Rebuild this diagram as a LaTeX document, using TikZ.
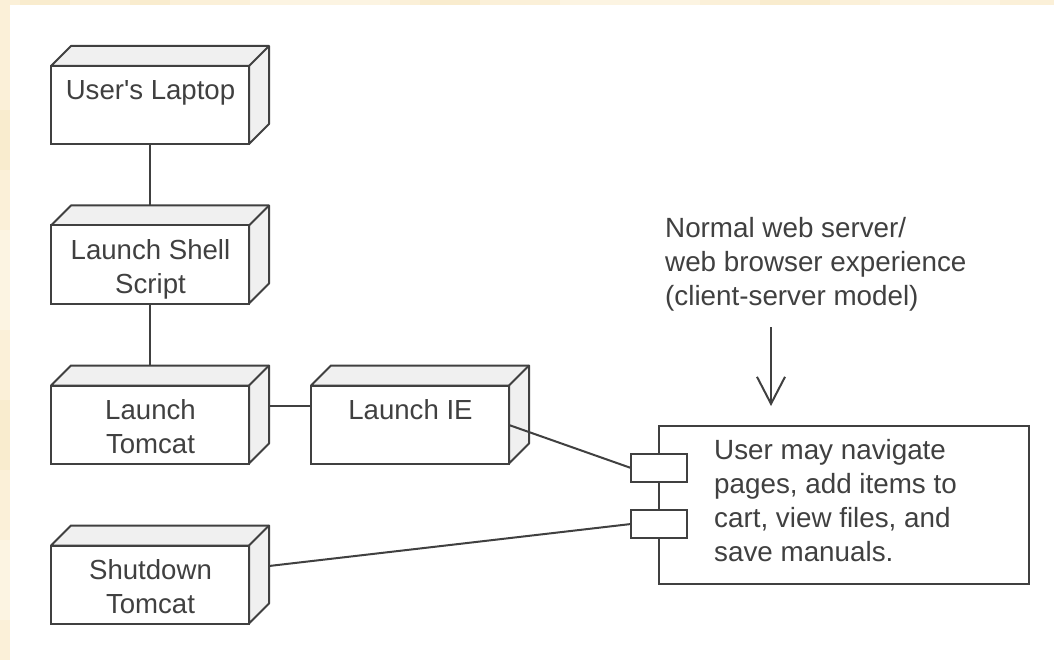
\documentclass[tikz,border=0pt]{standalone}
\usepackage{fontspec}
\setmainfont{Liberation Sans}[Ligatures=TeXOff]
\usetikzlibrary{arrows.meta}
\definecolor{parch}{HTML}{FBF0D8}
\definecolor{parchb}{HTML}{F9ECCE}
\definecolor{parchc}{HTML}{FCF4E2}
\definecolor{ink}{HTML}{404040}
\definecolor{sidef}{HTML}{F0F0F0}
\tikzset{
  x=1pt,y=-1pt,
  line/.style={draw=ink,line width=2pt},
  front/.style={line,fill=white,minimum width=198pt,minimum height=78pt,inner sep=0pt,outer sep=0pt,anchor=north west},
  face/.style={line,fill=sidef,line join=round},
  lbl/.style={text=ink,font=\fontsize{27.6}{34}\selectfont,align=center,inner sep=0pt},
  port/.style={line,fill=white,minimum width=56pt,minimum height=28pt,inner sep=0pt,outer sep=0pt},
  note/.style={text=ink,font=\fontsize{27.8}{34}\selectfont,align=left,inner sep=0pt,anchor=north west},
}
\newcommand{\devbox}[4]{% name, x, y, text
  \draw[face] (#2,#3) -- ++(20,-20) -- ++(198,0) -- ++(0,78) -- ++(-20,20) -- ++(0,-78) -- cycle;
  \draw[line] (#2+198,#3) -- ++(20,-20);
  \node[front] (#1) at (#2,#3) {};
  \node[lbl,anchor=north] (#1-t) at (#2+99.5,#3+14) {#4};
}
\begin{document}
\begin{tikzpicture}
\useasboundingbox (0,0) rectangle (1054,660);
\fill[parch] (0,0) rectangle (1054,660);
\fill[parchb] (20,0) rectangle (70,5);
\fill[parchb] (130,0) rectangle (170,5);
\fill[parchc] (250,0) rectangle (390,5);
\fill[parchb] (420,0) rectangle (480,5);
\fill[parchc] (560,0) rectangle (700,5);
\fill[parchb] (760,0) rectangle (830,5);
\fill[parchc] (880,0) rectangle (1000,5);
\fill[parchb] (0,110) rectangle (10,170);
\fill[parchc] (0,230) rectangle (10,330);
\fill[parchb] (0,400) rectangle (10,470);
\fill[parchc] (0,540) rectangle (10,620);
\fill[white] (10,5) rectangle (1054,660);
\devbox{laptop}{51}{66}{User's Laptop}
\devbox{script}{51}{225.5}{Launch Shell\\Script}
\devbox{tomcat}{51}{385.5}{Launch\\Tomcat}
\devbox{ie}{311}{385.5}{Launch IE}
\devbox{shutdown}{51}{545.5}{Shutdown\\Tomcat}
\node[line,fill=white,minimum width=370pt,minimum height=158pt,inner sep=0pt,outer sep=0pt,anchor=north west] (comp) at (659,426) {};
\node[port] (p1) at (659,468) {};
\node[port] (p2) at (659,524) {};
\node[note] (compt) at (714,439) {User may navigate\\pages, add items to\\cart, view files, and\\save manuals.};
\node[note] (noteb) at (665,217) {Normal web server/\\web browser experience\\(client-server model)};
\coordinate (arrowstart) at (771,327);
\coordinate (arrowend) at (771,406);
\coordinate (ieout) at (509,425);
\coordinate (shout) at (269,566);
\coordinate (tomout) at (269,406);
\draw[line] (laptop.south) -- ([yshift=20pt]script.north);
\draw[line] (script.south) -- ([yshift=20pt]tomcat.north);
\draw[line] (tomout) -- (tomout -| ie.west);
\draw[line] (ieout) -- (p1.west);
\draw[line] (shout) -- (p2.west);
\draw[line,-{Straight Barb[length=27pt,width=28pt,line width=2pt]}] (arrowstart) -- (arrowend);
\end{tikzpicture}
\end{document}
